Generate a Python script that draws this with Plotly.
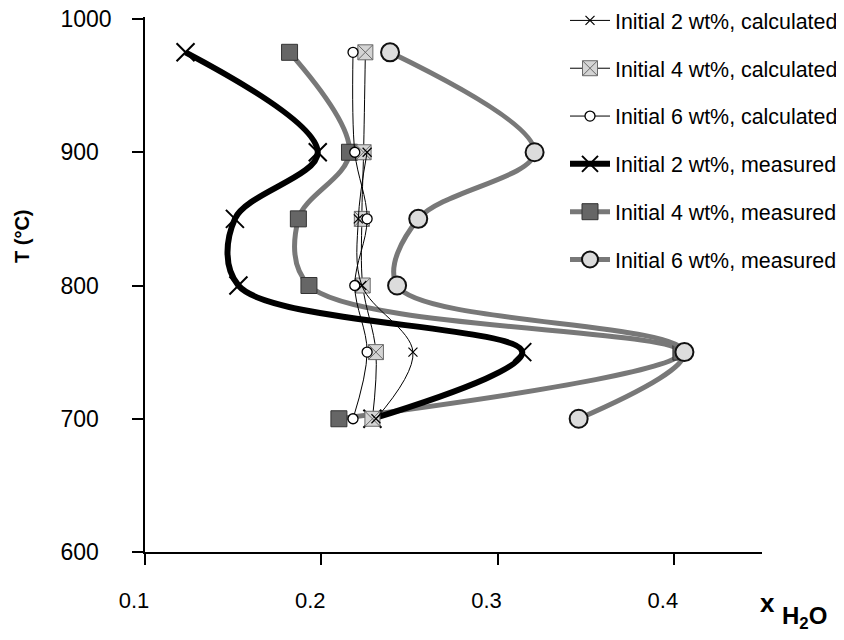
import plotly.graph_objects as go

# ---- data ----
T_all = [975, 900, 850, 800, 750, 700]
T_2calc = [900, 850, 800, 750, 700]
x_2calc = [0.226, 0.221, 0.223, 0.252, 0.231]
x_4calc = [0.225, 0.224, 0.223, 0.2235, 0.231, 0.229]
x_6calc = [0.218, 0.219, 0.226, 0.219, 0.226, 0.218]
x_2meas = [0.123, 0.198, 0.151, 0.153, 0.314, 0.229]
x_4meas = [0.182, 0.216, 0.187, 0.193, 0.404, 0.210]
x_6meas = [0.239, 0.321, 0.255, 0.243, 0.406, 0.346]

x_ticks = [0.1, 0.2, 0.3, 0.4]
x_ticklabels = ["0.1", "0.2", "0.3", "0.4"]
y_ticks = [600, 700, 800, 900, 1000]
y_ticklabels = ["600", "700", "800", "900", "1000"]

names = [
    "Initial 2 wt%, calculated",
    "Initial 4 wt%, calculated",
    "Initial 6 wt%, calculated",
    "Initial 2 wt%, measured",
    "Initial 4 wt%, measured",
    "Initial 6 wt%, measured",
]

FONT = "Arial, Liberation Sans, sans-serif"
W, H = 844, 640
OFF = 8  # page body margin offset
# plot area in screen pixels: x 145..762, y 17..552 (y range 600..1001.5)
ML, MT = 145 - OFF, 17 - OFF
MR, MB = W - (762 - OFF), H - (552 - OFF)
PW, PH = W - ML - MR, H - MT - MB


def px2paper(px, py):
    # px, py are screen coordinates
    return (px - OFF - ML) / PW, (H - MB - (py - OFF)) / PH


# y tick labels are left-aligned in the reference: pad shorter ones with an invisible digit
maxlen = max(len(s) for s in y_ticklabels)
y_ticktext = [s + ("<span style='color:rgba(0,0,0,0)'>" + "0" * (maxlen - len(s)) + "</span>"
                   if len(s) < maxlen else "") for s in y_ticklabels]

fig = go.Figure()

GREY = "#787878"
# measured series (drawn first, beneath thin lines)
fig.add_trace(go.Scatter(
    x=x_4meas, y=T_all, name=names[4], legendrank=5, legendgroup="g5",
    mode="lines+markers", line=dict(color=GREY, width=5, shape="spline", smoothing=1),
    marker=dict(symbol="square", size=16, color="#666666", line=dict(color="#333333", width=1)),
))
fig.add_trace(go.Scatter(
    x=x_6meas, y=T_all, name=names[5], legendrank=6, legendgroup="g6",
    mode="lines+markers", line=dict(color=GREY, width=5, shape="spline", smoothing=1),
    marker=dict(symbol="circle", size=18, color="#dcdcdc", line=dict(color="#111111", width=2)),
))
fig.add_trace(go.Scatter(
    x=x_2meas, y=T_all, name=names[3], legendrank=4, legendgroup="g4",
    mode="lines+markers", line=dict(color="black", width=6, shape="spline", smoothing=1),
    marker=dict(symbol="x-thin", size=18, color="black", line=dict(color="black", width=2)),
))
# calculated series
fig.add_trace(go.Scatter(
    x=x_4calc, y=T_all, name=names[1], legendrank=2, legendgroup="g2",
    mode="lines+markers", line=dict(color="black", width=1, shape="spline", smoothing=1),
    marker=dict(symbol="square-x", size=15, color="#d4d4d4", line=dict(color="#6a6a6a", width=1)),
))
fig.add_trace(go.Scatter(
    x=x_6calc, y=T_all, name=names[2], legendrank=3, legendgroup="g3",
    mode="lines+markers", line=dict(color="black", width=1, shape="spline", smoothing=1),
    marker=dict(symbol="circle", size=10, color="white", line=dict(color="black", width=1.3)),
))
fig.add_trace(go.Scatter(
    x=x_2calc, y=T_2calc, name=names[0], legendrank=1, legendgroup="g1",
    mode="lines+markers", line=dict(color="black", width=1, shape="spline", smoothing=1),
    marker=dict(symbol="x-thin", size=9, color="black", line=dict(color="black", width=1.2)),
))

lx, ly = px2paper(565, 0)
ax1x, ax1y = px2paper(767, 603)
ax2x, ax2y = px2paper(805, 617)
tx, ty = px2paper(22, 236)

fig.update_layout(
    width=W, height=H,
    margin=dict(l=ML, r=MR, t=MT, b=MB, autoexpand=False),
    paper_bgcolor="white", plot_bgcolor="white",
    font=dict(family=FONT, color="black"),
    showlegend=True,
    legend=dict(
        x=lx, y=ly, xanchor="left", yanchor="top",
        font=dict(size=21.4, family=FONT, color="black"),
        bgcolor="rgba(0,0,0,0)", itemwidth=40, tracegroupgap=17,
    ),
    xaxis=dict(
        range=[0.1, 0.45], tickvals=x_ticks, ticktext=x_ticklabels,
        showgrid=False, zeroline=False, showline=True, linecolor="black", linewidth=1.5,
        ticks="outside", ticklen=11, tickwidth=1.5, tickcolor="black", automargin=False,
        tickfont=dict(size=22, family=FONT), ticklabelstandoff=17, ticklabelshift=-11,
        ticklabeloverflow="allow",
    ),
    yaxis=dict(
        range=[600, 1001.5], tickvals=y_ticks, ticktext=y_ticktext,
        showgrid=False, zeroline=False, showline=True, linecolor="black", linewidth=1.5,
        ticks="outside", ticklen=11, tickwidth=1.5, tickcolor="black", automargin=False,
        tickfont=dict(size=23, family=FONT), ticklabelstandoff=16,
        ticklabeloverflow="allow",
    ),
    annotations=[
        dict(x=tx, y=ty, xref="paper", yref="paper", text="<b>T (°C)</b>", textangle=-90,
             showarrow=False, font=dict(size=20, family=FONT), xanchor="center", yanchor="middle"),
        dict(x=ax1x, y=ax1y, xref="paper", yref="paper", text="<b>x</b>",
             showarrow=False, font=dict(size=26, family=FONT), xanchor="center", yanchor="middle"),
        dict(x=ax2x, y=ax2y, xref="paper", yref="paper", text="<b>H<sub>2</sub>O</b>",
             showarrow=False, font=dict(size=24, family=FONT), xanchor="center", yanchor="middle"),
    ],
)

fig.write_html("out.html")
